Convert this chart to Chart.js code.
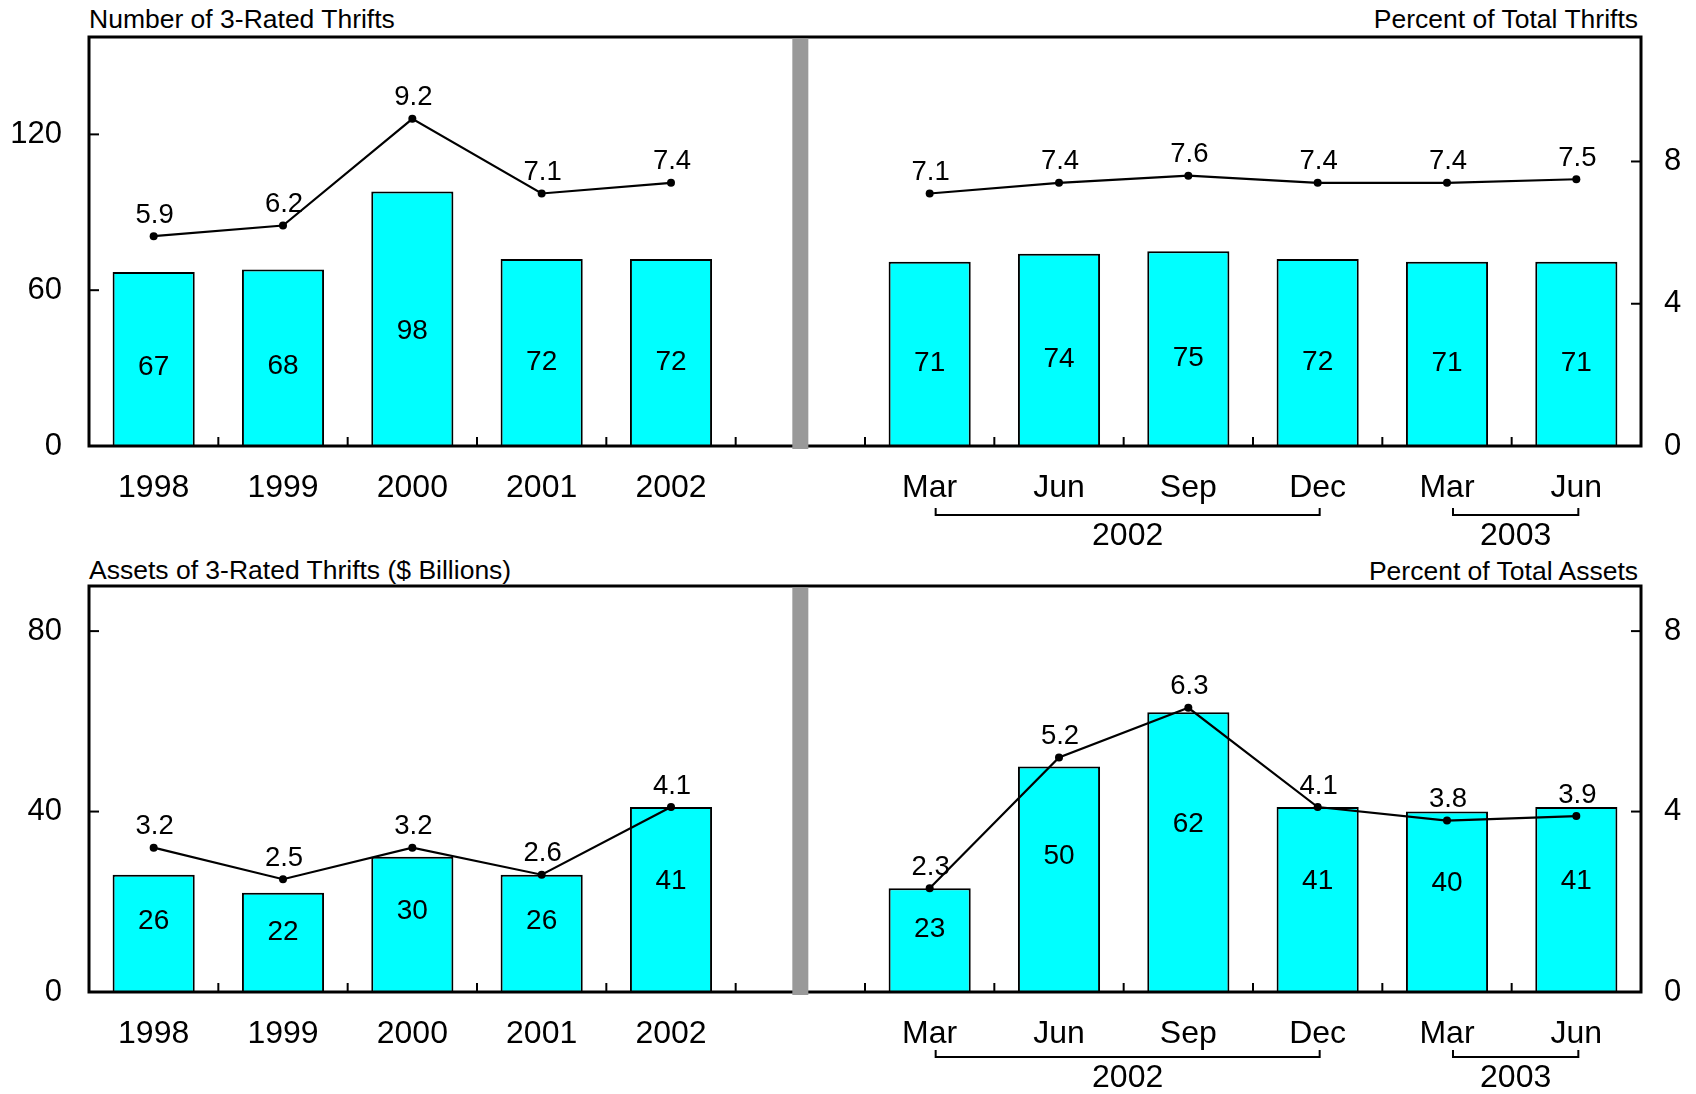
<!DOCTYPE html>
<html>
<head>
<meta charset="utf-8">
<script src="https://cdn.jsdelivr.net/npm/chart.js@4.4.1/dist/chart.umd.min.js"></script>
<style>
  html, body { margin: 0; padding: 0; background: #fff; width: 1696px; height: 1094px; overflow: hidden; }
  .panel { position: absolute; left: 0; width: 1696px; height: 547px; }
  .title { position: absolute; font-family: "Liberation Sans", Arial, sans-serif; font-size: 26.5px; color: #000; line-height: 30px; white-space: nowrap; }
</style>
</head>
<body>
<div class="title" style="left:89px; top:4px;">Number of 3-Rated Thrifts</div>
<div class="title" style="right:58px; top:4px;">Percent of Total Thrifts</div>
<div class="title" style="left:89px; top:555px;">Assets of 3-Rated Thrifts ($ Billions)</div>
<div class="title" style="right:58px; top:556px;">Percent of Total Assets</div>
<div class="panel" style="top:0px;"><canvas id="c1" width="1696" height="547"></canvas></div>
<div class="panel" style="top:547px;"><canvas id="c2" width="1696" height="547"></canvas></div>
<script>
// ---------- data ----------
const years = ['1998', '1999', '2000', '2001', '2002'];
const quarters = ['Mar', 'Jun', 'Sep', 'Dec', 'Mar', 'Jun'];
const categories = [...years, '', ...quarters];
const gapIndex = 5;

const thriftCounts  = [67, 68, 98, 72, 72, null, 71, 74, 75, 72, 71, 71];
const thriftPercent = [5.9, 6.2, 9.2, 7.1, 7.4, null, 7.1, 7.4, 7.6, 7.4, 7.4, 7.5];
const assetBillions = [26, 22, 30, 26, 41, null, 23, 50, 62, 41, 40, 41];
const assetPercent  = [3.2, 2.5, 3.2, 2.6, 4.1, null, 2.3, 5.2, 6.3, 4.1, 3.8, 3.9];

const topLeftTicks = [0, 60, 120];
const topRightTicks = [0, 4, 8];
const bottomLeftTicks = [0, 40, 80];
const bottomRightTicks = [0, 4, 8];
const topLeftMax = 157.5, topRightMax = 11.5;
const bottomLeftMax = 90, bottomRightMax = 9;

const yearGroups = [
  { label: '2002', from: 6, to: 9 },
  { label: '2003', from: 10, to: 11 }
];

// ---------- style ----------
const FONT = '"Liberation Sans", Arial, sans-serif';
Chart.defaults.font.family = FONT;
Chart.defaults.color = '#000';

function line(ctx, x1, y1, x2, y2) {
  ctx.beginPath(); ctx.moveTo(x1, y1); ctx.lineTo(x2, y2); ctx.stroke();
}

const decor = {
  id: 'decor',
  afterDatasetsDraw(chart, args, opts) {
    const ctx = chart.ctx, a = chart.chartArea;
    const x = chart.scales.x, y = chart.scales.y, y1 = chart.scales.y1;
    ctx.save();
    ctx.strokeStyle = '#000';
    ctx.fillStyle = '#000';
    // frame
    ctx.lineWidth = 3;
    ctx.strokeRect(a.left, a.top, a.right - a.left, a.bottom - a.top);
    // inner ticks
    ctx.lineWidth = 2;
    y.ticks.forEach(t => { const p = y.getPixelForValue(t.value); line(ctx, a.left, p, a.left + 10, p); });
    y1.ticks.forEach(t => { const p = y1.getPixelForValue(t.value); line(ctx, a.right - 10, p, a.right, p); });
    for (let i = 1; i < categories.length; i++) {
      const p = (x.getPixelForValue(i - 1) + x.getPixelForValue(i)) / 2;
      line(ctx, p, a.bottom, p, a.bottom - 9);
    }
    // grey divider
    const gx = x.getPixelForValue(gapIndex);
    ctx.fillStyle = '#999999';
    ctx.fillRect(gx - 8, a.top + 1.5, 16, a.bottom - a.top + 1.5);
    ctx.fillStyle = '#000';
    // bar labels
    ctx.textAlign = 'center';
    ctx.textBaseline = 'middle';
    ctx.font = '28px ' + FONT;
    const barMeta = chart.getDatasetMeta(1);
    const barData = chart.data.datasets[1].data;
    barMeta.data.forEach((el, i) => {
      const v = barData[i];
      if (v == null) return;
      ctx.fillText(String(v), el.x, y.getPixelForValue(v * opts.labelFrac));
    });
    // line labels
    ctx.font = '27.5px ' + FONT;
    const lineMeta = chart.getDatasetMeta(0);
    const lineData = chart.data.datasets[0].data;
    lineMeta.data.forEach((el, i) => {
      const v = lineData[i];
      if (v == null) return;
      ctx.fillText(v.toFixed(1), el.x + 1, el.y - 21);
    });
    // year brackets
    ctx.lineWidth = 2;
    ctx.font = '32px ' + FONT;
    yearGroups.forEach(g => {
      const l = x.getPixelForValue(g.from) + 6;
      const r = x.getPixelForValue(g.to) + 2;
      const yb = a.bottom + opts.bracketOffset;
      ctx.beginPath();
      ctx.moveTo(l, yb - 7); ctx.lineTo(l, yb); ctx.lineTo(r, yb); ctx.lineTo(r, yb - 7);
      ctx.stroke();
      ctx.fillText(g.label, (l + r) / 2, yb + opts.groupLabelGap);
    });
    ctx.restore();
  }
};

function makeChart(id, bars, pct, leftTicks, rightTicks, leftMax, rightMax, padTop, xHeight, labelFrac, bracketOffset, groupLabelGap) {
  const zeroPad = s => { s.paddingTop = 0; s.paddingBottom = 0; s.paddingLeft = 0; s.paddingRight = 0; };
  return new Chart(document.getElementById(id), {
    type: 'bar',
    data: {
      labels: categories,
      datasets: [
        {
          type: 'line',
          data: pct,
          yAxisID: 'y1',
          borderColor: '#000',
          borderWidth: 2.2,
          pointRadius: 4,
          pointBackgroundColor: '#000',
          pointBorderColor: '#000',
          pointBorderWidth: 0,
          spanGaps: false,
          tension: 0,
          order: 0
        },
        {
          type: 'bar',
          data: bars,
          yAxisID: 'y',
          backgroundColor: '#00FFFF',
          borderColor: '#000',
          borderWidth: 2,
          categoryPercentage: 1.0,
          barPercentage: 0.635,
          order: 1
        }
      ]
    },
    options: {
      responsive: false,
      animation: false,
      devicePixelRatio: 1,
      layout: { padding: { top: padTop, left: 0, right: 0, bottom: 0 } },
      plugins: {
        legend: { display: false },
        tooltip: { enabled: false },
        decor: { labelFrac: labelFrac, bracketOffset: bracketOffset, groupLabelGap: groupLabelGap }
      },
      scales: {
        x: {
          type: 'category',
          offset: true,
          grid: { display: false, drawTicks: false },
          border: { display: false },
          ticks: { font: { size: 32 }, color: '#000', padding: 23, autoSkip: false, maxRotation: 0, minRotation: 0 },
          afterFit: s => { s.height = xHeight; zeroPad(s); }
        },
        y: {
          position: 'left',
          min: 0, max: leftMax,
          grid: { display: false, drawTicks: false },
          border: { display: false },
          ticks: { font: { size: 31 }, color: '#000', padding: 27 },
          afterBuildTicks: s => { s.ticks = leftTicks.map(v => ({ value: v })); },
          afterFit: s => { s.width = 89; zeroPad(s); }
        },
        y1: {
          position: 'right',
          min: 0, max: rightMax,
          grid: { display: false, drawTicks: false },
          border: { display: false },
          ticks: { font: { size: 31 }, color: '#000', padding: 23 },
          afterBuildTicks: s => { s.ticks = rightTicks.map(v => ({ value: v })); },
          afterFit: s => { s.width = 55; zeroPad(s); }
        }
      }
    },
    plugins: [decor]
  });
}

makeChart('c1', thriftCounts, thriftPercent, topLeftTicks, topRightTicks, topLeftMax, topRightMax, 37, 101, 0.45, 69, 21);
makeChart('c2', assetBillions, assetPercent, bottomLeftTicks, bottomRightTicks, bottomLeftMax, bottomRightMax, 39, 102, 0.6, 65, 21);
</script>
</body>
</html>
